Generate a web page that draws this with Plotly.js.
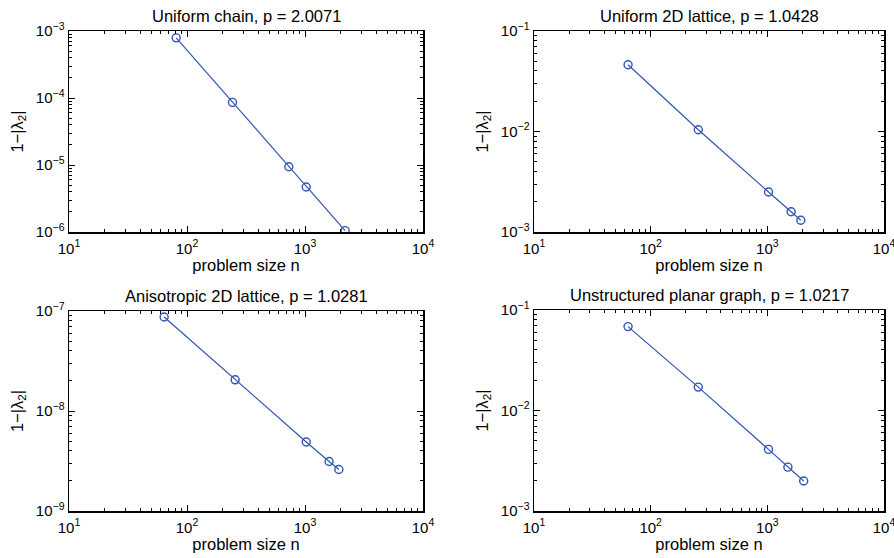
<!DOCTYPE html>
<html>
<head>
<meta charset="utf-8">
<script src="https://cdn.plot.ly/plotly-3.0.1.min.js"></script>
<style>html,body{margin:0;padding:0;background:#fff;}#chart{width:894px;height:558px;}</style>
</head>
<body>
<div id="chart"></div>
<script>
// ---- data ----
const titles = [
  "Uniform chain, p = 2.0071",
  "Uniform 2D lattice, p = 1.0428",
  "Anisotropic 2D lattice, p = 1.0281",
  "Unstructured planar graph, p = 1.0217"
];
const chainN = [81, 243, 729, 1024, 2187];
const chainGap = [7.9e-4, 8.6e-5, 9.4e-6, 4.7e-6, 1.05e-6];
const latticeN = [64, 256, 1024, 1600, 1936];
const latticeGap = [0.0462, 0.0104, 0.0025, 0.00159, 0.00131];
const anisoN = [64, 256, 1024, 1600, 1936];
const anisoGap = [8.7e-8, 2.05e-8, 4.9e-9, 3.13e-9, 2.6e-9];
const planarN = [64, 256, 1024, 1500, 2048];
const planarGap = [0.0684, 0.0171, 0.0041, 0.00273, 0.00199];
const xTickVals = [10, 100, 1000, 10000];
const xTickText = ["10<sup>1</sup>", "10<sup>2</sup>", "10<sup>3</sup>", "10<sup>4</sup>"];
const yTicks1Vals = [1e-6, 1e-5, 1e-4, 1e-3];
const yTicks1Text = ["10<sup>−6</sup>", "10<sup>−5</sup>", "10<sup>−4</sup>", "10<sup>−3</sup>"];
const yTicks2Vals = [1e-3, 1e-2, 1e-1];
const yTicks2Text = ["10<sup>−3</sup>", "10<sup>−2</sup>", "10<sup>−1</sup>"];
const yTicks3Vals = [1e-9, 1e-8, 1e-7];
const yTicks3Text = ["10<sup>−9</sup>", "10<sup>−8</sup>", "10<sup>−7</sup>"];
const xLabel = "problem size n";
const yLabel = "1−|λ<sub>2</sub>|";

const W = 894, H = 558;
const blue = "#2f55b0";
const font = "Liberation Sans, Arial, Helvetica, sans-serif";

const series = [
  {x: chainN, y: chainGap},
  {x: latticeN, y: latticeGap},
  {x: anisoN, y: anisoGap},
  {x: planarN, y: planarGap}
];
const traces = series.map((s, i) => ({
  x: s.x, y: s.y, type: "scatter", mode: "lines+markers",
  xaxis: i === 0 ? "x" : "x" + (i + 1),
  yaxis: i === 0 ? "y" : "y" + (i + 1),
  line: {color: blue, width: 1.2},
  marker: {symbol: "circle-open", size: 8, color: blue, line: {width: 1.4, color: blue}},
  showlegend: false, hoverinfo: "x+y"
}));

// box geometry in pixels
const boxes = [
  {l: 69, r: 423, t: 31, b: 232},
  {l: 534, r: 884, t: 31, b: 232},
  {l: 69, r: 423, t: 311, b: 511},
  {l: 534, r: 884, t: 310, b: 511}
];
const yRanges = [[-6, -3], [-3, -1], [-9, -7], [-3, -1]];
const yTV = [yTicks1Vals, yTicks2Vals, yTicks3Vals, yTicks2Vals];
const yTT = [yTicks1Text, yTicks2Text, yTicks3Text, yTicks2Text];

const layout = {
  width: W, height: H,
  margin: {l: 0, r: 0, t: 0, b: 0},
  paper_bgcolor: "#fff", plot_bgcolor: "#fff",
  font: {family: font, size: 15, color: "#000"},
  showlegend: false,
  annotations: []
};

boxes.forEach((bx, i) => {
  const k = i === 0 ? "" : String(i + 1);
  const common = {
    type: "log", showgrid: false, zeroline: false,
    showline: true, linecolor: "#000", linewidth: 1.5, mirror: "allticks",
    ticks: "inside", ticklen: 6, tickwidth: 1, tickcolor: "#000",
    minor: {ticks: "inside", ticklen: 3, tickwidth: 1, tickcolor: "#000", dtick: "D1", showgrid: false},
    tickfont: {family: font, size: 15, color: "#000"},
    ticklabeloverflow: "allow"
  };
  layout["xaxis" + k] = Object.assign({}, common, {
    domain: [bx.l / W, bx.r / W],
    anchor: "y" + k,
    range: [1, 4],
    tickmode: "array", tickvals: xTickVals, ticktext: xTickText,
    ticklabelstandoff: 2,
    title: {text: xLabel, font: {family: font, size: 16.5, color: "#000"}, standoff: 0}
  });
  layout["yaxis" + k] = Object.assign({}, common, {
    domain: [1 - bx.b / H, 1 - bx.t / H],
    anchor: "x" + k,
    range: yRanges[i],
    tickmode: "array", tickvals: yTV[i], ticktext: yTT[i],
    title: {text: yLabel, font: {family: font, size: 16.5, color: "#000"}, standoff: 8}
  });
  layout.annotations.push({
    text: titles[i], xref: "paper", yref: "paper",
    x: (bx.l + bx.r) / 2 / W, y: 1 - bx.t / H,
    xanchor: "center", yanchor: "bottom", yshift: 4, showarrow: false,
    font: {family: font, size: 16.5, color: "#000"}
  });
});

Plotly.newPlot("chart", traces, layout, {staticPlot: true, displayModeBar: false});
</script>
</body>
</html>
